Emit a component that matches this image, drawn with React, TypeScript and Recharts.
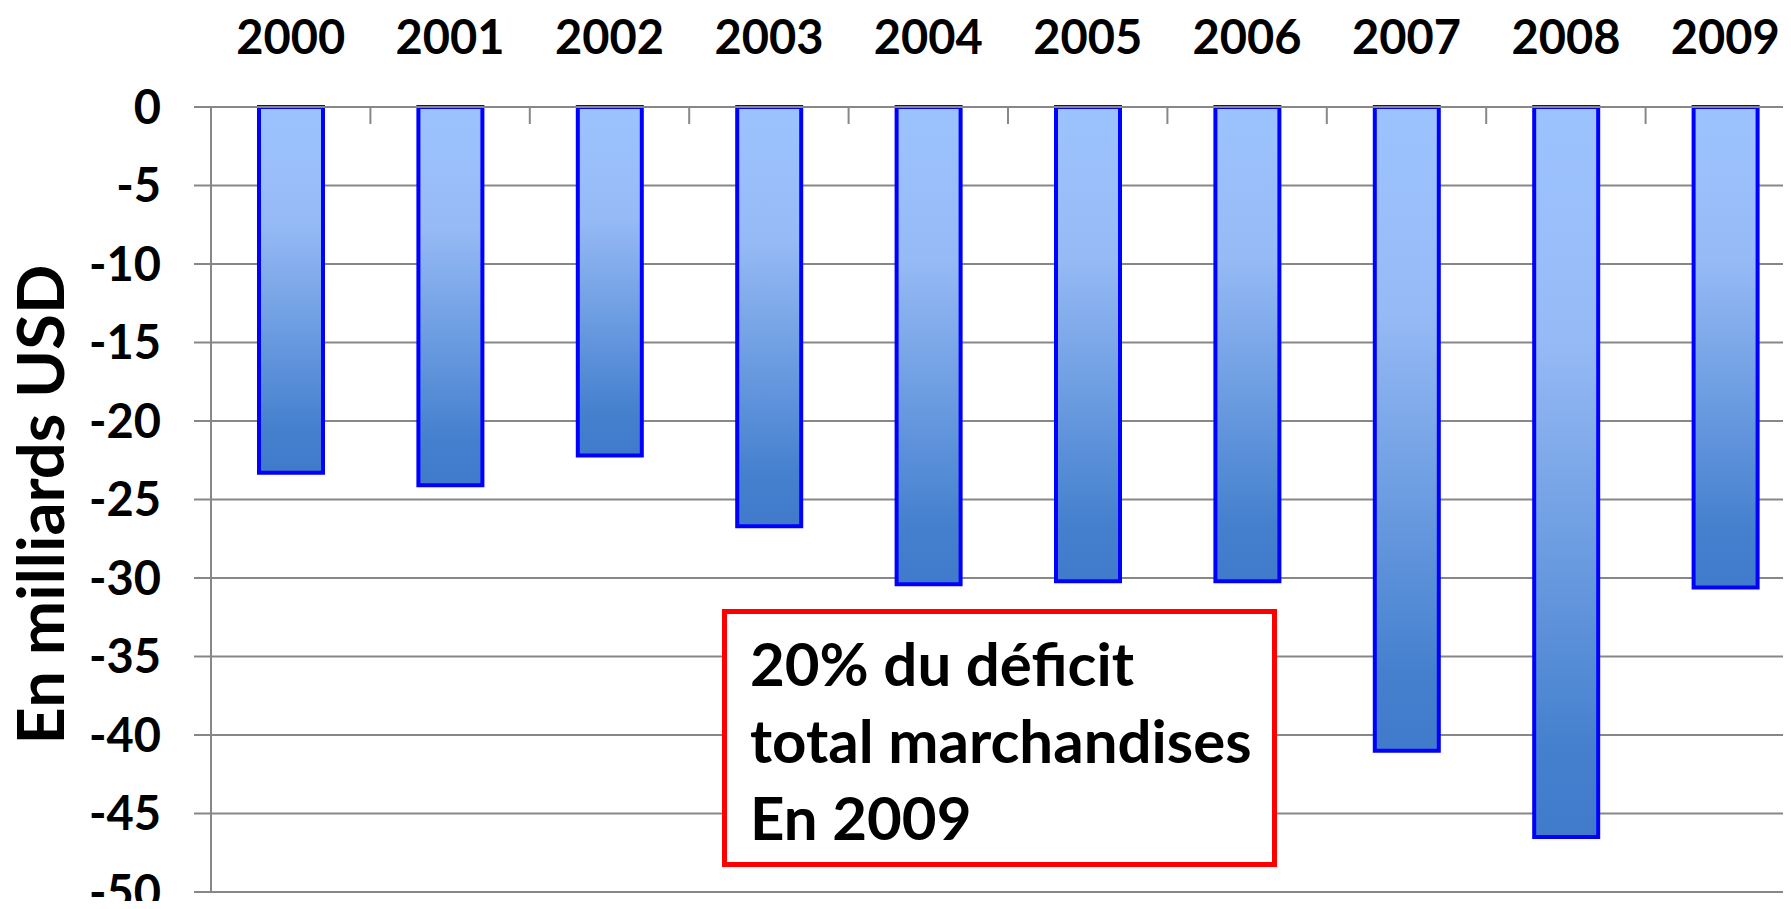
import { BarChart, Bar, XAxis, YAxis, CartesianGrid, Label } from "recharts";

const years = ["2000", "2001", "2002", "2003", "2004", "2005", "2006", "2007", "2008", "2009"];
const deficit = [-23.3, -24.1, -22.2, -26.7, -30.4, -30.2, -30.2, -41.0, -46.5, -30.6];
const yTicks = [0, -5, -10, -15, -20, -25, -30, -35, -40, -45, -50];
const noteLines = ["20% du déficit", "total marchandises", "En 2009"];
const yTitle = "En milliards USD";

const data = years.map((year, i) => ({ year, deficit: deficit[i] }));

const FONT = "Lato, 'Liberation Sans', Arial, sans-serif";
const GRID = "#878787";

function YearTick(props: any) {
  const { x, y, payload } = props;
  const half = payload?.offset ?? 79.7;
  return (
    <g>
      <text
        x={x}
        y={y - 53}
        textAnchor="middle"
        fontFamily={FONT}
        fontWeight={700}
        fontSize={47}
        fill="#000"
      >
        {payload.value}
      </text>
      <line x1={x + half} x2={x + half} y1={y} y2={y + 17} stroke={GRID} strokeWidth={2} />
    </g>
  );
}

function TitleLabel(props: any) {
  const vb = props.viewBox || { x: 0, y: 99, width: 203, height: 785 };
  const cx = vb.x + 56;
  const cy = vb.y + vb.height / 2 + 5;
  return (
    <text
      x={cx}
      y={cy}
      transform={`rotate(-90 ${cx} ${cy})`}
      textAnchor="middle"
      fontFamily={FONT}
      fontWeight={700}
      fontSize={65}
      fill="#000"
    >
      {yTitle}
    </text>
  );
}

export default function App() {
  return (
    <div
      style={{
        position: "relative",
        width: 1783,
        height: 901,
        marginBottom: -8,
        overflow: "hidden",
        background: "#fff",
      }}
    >
      <svg width={0} height={0} style={{ position: "absolute" }}>
        <defs>
          <linearGradient id="barFill" x1="0" y1="0" x2="0" y2="1">
            <stop offset="0%" stopColor="#9DC3FF" />
            <stop offset="32%" stopColor="#96BAF5" />
            <stop offset="88%" stopColor="#4480CE" />
            <stop offset="100%" stopColor="#3F7BCA" />
          </linearGradient>
        </defs>
      </svg>
      <BarChart
        width={1800}
        height={901}
        data={data}
        margin={{ top: 0, right: 3, bottom: 17, left: 0 }}
      >
        <CartesianGrid vertical={false} stroke={GRID} strokeWidth={2} />
        <XAxis
          dataKey="year"
          orientation="top"
          height={99}
          axisLine={{ stroke: GRID, strokeWidth: 2 }}
          tickLine={false}
          tickSize={0}
          tickMargin={0}
          interval={0}
          tick={(p: any) => <YearTick {...p} />}
        />
        <YAxis
          type="number"
          domain={[-50, 0]}
          ticks={yTicks}
          interval={0}
          width={203}
          tickSize={17}
          tickMargin={33}
          axisLine={{ stroke: GRID, strokeWidth: 2 }}
          tickLine={{ stroke: GRID, strokeWidth: 2 }}
          tick={{ fill: "#000", fontSize: 47, fontWeight: 700, fontFamily: FONT }}
        >
          <Label content={(p: any) => <TitleLabel {...p} />} />
        </YAxis>
        <Bar
          dataKey="deficit"
          fill="url(#barFill)"
          stroke="#0000FF"
          strokeWidth={4}
          barSize={64}
          isAnimationActive={false}
        />
      </BarChart>
      <div
        style={{
          position: "absolute",
          left: 714,
          top: 601,
          width: 555,
          height: 258,
          boxSizing: "border-box",
          border: "5px solid #FF0000",
          background: "#fff",
          padding: "11px 0 0 23px",
          fontFamily: FONT,
          fontWeight: 700,
          fontSize: 60,
          color: "#000",
        }}
      >
        {noteLines.map((line) => (
          <div key={line} style={{ height: 77, lineHeight: "77px", whiteSpace: "nowrap" }}>
            {line}
          </div>
        ))}
      </div>
    </div>
  );
}
